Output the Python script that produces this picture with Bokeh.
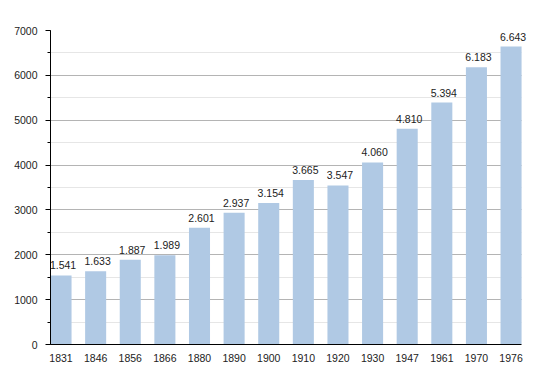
from bokeh.plotting import figure
from bokeh.models import ColumnDataSource, FixedTicker, SingleIntervalTicker, Range1d
from bokeh.core.properties import value
from bokeh.embed import file_html
from bokeh.resources import INLINE

years = ["1831", "1846", "1856", "1866", "1880", "1890", "1900", "1910",
         "1920", "1930", "1947", "1961", "1970", "1976"]
population = [1541, 1633, 1887, 1989, 2601, 2937, 3154, 3665,
              3547, 4060, 4810, 5394, 6183, 6643]

idx = list(range(len(years)))
labels = [f"{v:,}".replace(",", ".") for v in population]

src = ColumnDataSource(dict(x=idx, top=population, label=labels))

x0, x1 = -0.304, len(years) - 1 + 0.304
p = figure(frame_width=478, frame_height=314, output_backend="svg",
           toolbar_location=None,
           x_range=Range1d(x0, x1 + 0.2),
           y_range=Range1d(0, 7000),
           min_border_left=50, min_border_right=14, min_border_top=30,
           min_border_bottom=21)
p.outline_line_color = None
p.background_fill_color = "white"
p.border_fill_color = "white"

p.vbar(x="x", top="top", width=0.608, source=src, fill_color="#b0c9e4",
       line_color=None)
p.text(x="x", y="top", text="label", source=src, text_align="center",
       text_baseline="alphabetic", y_offset=-10, x_offset=2,
       text_font=value("Liberation Sans"), text_font_size="10.5px",
       text_color="#222222")

# x axis
p.xaxis.ticker = FixedTicker(ticks=idx)
p.xaxis.bounds = (x0, x1)
p.xaxis.major_label_overrides = {i: y for i, y in zip(idx, years)}
p.xaxis.major_tick_line_color = None
p.xaxis.minor_tick_line_color = None
p.xaxis.major_label_standoff = 3
p.xaxis.axis_line_color = "black"
p.xaxis.major_label_text_font = "Liberation Sans"
p.xaxis.major_label_text_font_size = "10.5px"
p.xaxis.major_label_text_color = "#222222"
p.xgrid.grid_line_color = None

# y axis
p.yaxis.ticker = SingleIntervalTicker(interval=1000, num_minor_ticks=2)
p.yaxis.axis_line_color = "black"
p.yaxis.major_tick_in = 0
p.yaxis.major_tick_out = 5
p.yaxis.minor_tick_in = 0
p.yaxis.minor_tick_out = 3
p.yaxis.major_tick_line_color = "black"
p.yaxis.minor_tick_line_color = "black"
p.yaxis.major_label_standoff = 8
p.yaxis.major_label_text_font = "Liberation Sans"
p.yaxis.major_label_text_font_size = "10.5px"
p.yaxis.major_label_text_color = "#222222"
p.ygrid.grid_line_color = "#b4b4b4"
p.ygrid.minor_grid_line_color = "#e6e6e6"
try:
    p.ygrid.cross_bounds = (x0, x1)
except Exception:
    pass

open("out.html", "w").write(file_html(p, INLINE))
